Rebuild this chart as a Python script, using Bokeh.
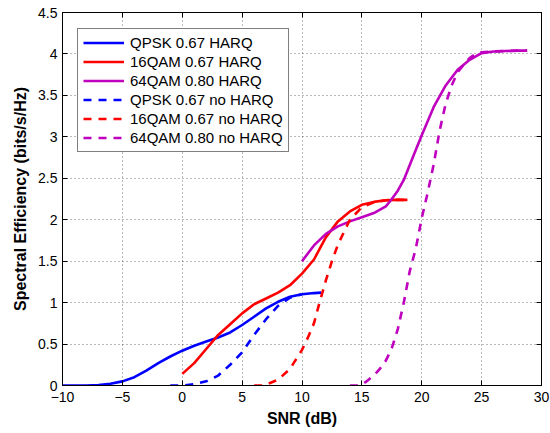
from bokeh.plotting import figure
from bokeh.models import LinearAxis, Legend, LegendItem, FixedTicker, Range1d
from bokeh.embed import file_html
from bokeh.resources import INLINE

# ---- data ----
snr_qpsk_harq = [-10, -8, -7, -6, -5, -4, -3, -2, -1, 0, 1, 2, 3, 4, 5, 6, 7, 8, 9, 10, 11, 11.6]
se_qpsk_harq = [0, 0, 0.005, 0.02, 0.05, 0.1, 0.18, 0.27, 0.35, 0.42, 0.48, 0.53, 0.58, 0.64, 0.73, 0.83, 0.93, 1.01, 1.07, 1.1, 1.115, 1.12]

snr_16qam_harq = [0, 1, 2, 3, 4, 5, 6, 7, 8, 9, 10, 11, 12, 13, 14, 15, 16, 17, 18, 18.8]
se_16qam_harq = [0.14, 0.27, 0.44, 0.61, 0.74, 0.87, 0.98, 1.05, 1.12, 1.21, 1.35, 1.52, 1.79, 1.98, 2.1, 2.18, 2.215, 2.235, 2.24, 2.24]

snr_64qam_harq = [10, 11, 12, 13, 14, 15, 16, 17, 17.5, 18, 18.5, 19, 19.5, 20, 21, 22, 23, 24, 25, 26, 27, 28, 28.8]
se_64qam_harq = [1.5, 1.69, 1.83, 1.92, 1.98, 2.03, 2.08, 2.16, 2.25, 2.35, 2.48, 2.66, 2.84, 3.02, 3.36, 3.62, 3.81, 3.93, 4.01, 4.03, 4.035, 4.04, 4.04]

snr_qpsk_noharq = [-1, 0, 1, 2, 3, 4, 5, 6, 7, 8, 9, 10]
se_qpsk_noharq = [0, 0, 0.015, 0.05, 0.12, 0.25, 0.4, 0.61, 0.8, 0.96, 1.06, 1.1]

snr_16qam_noharq = [6, 6.7, 7, 8, 9, 10, 10.5, 11, 11.5, 12, 12.5, 13, 13.5, 14, 15, 16, 17, 18, 18.8]
se_16qam_noharq = [0, 0, 0.01, 0.07, 0.2, 0.43, 0.58, 0.75, 1.02, 1.27, 1.5, 1.7, 1.85, 2.0, 2.15, 2.21, 2.235, 2.24, 2.24]

snr_64qam_noharq = [14, 14.8, 15.3, 16, 16.5, 17, 17.5, 18, 18.5, 19, 19.5, 20, 20.5, 21, 21.5, 22, 22.5, 23, 23.5, 24, 24.5, 25, 26, 27, 28, 28.8]
se_64qam_noharq = [0, 0, 0.04, 0.12, 0.2, 0.3, 0.45, 0.68, 1.0, 1.38, 1.65, 2.02, 2.33, 2.67, 3.08, 3.4, 3.62, 3.78, 3.87, 3.95, 4.0, 4.02, 4.03, 4.035, 4.04, 4.04]

labels = ["QPSK 0.67 HARQ", "16QAM 0.67 HARQ", "64QAM 0.80 HARQ",
          "QPSK 0.67 no HARQ", "16QAM 0.67 no HARQ", "64QAM 0.80 no HARQ"]

x_ticks = [-10, -5, 0, 5, 10, 15, 20, 25, 30]
x_tick_labels = ["\u221210", "\u22125", "0", "5", "10", "15", "20", "25", "30"]
y_ticks = [0, 0.5, 1, 1.5, 2, 2.5, 3, 3.5, 4, 4.5]
y_tick_labels = ["0", "0.5", "1", "1.5", "2", "2.5", "3", "3.5", "4", "4.5"]

BLUE = "#0000FF"
RED = "#FF0000"
MAG = "#BF00BF"
FONT = "Liberation Sans"

p = figure(width=550, height=433, x_range=Range1d(-10, 30), y_range=Range1d(0, 4.5),
           output_backend="svg", toolbar_location=None,
           min_border_left=62, min_border_right=9, min_border_top=12, min_border_bottom=48)
p.background_fill_color = "white"
p.border_fill_color = "white"
p.outline_line_color = "black"
p.outline_line_width = 1

xt = FixedTicker(ticks=x_ticks)
yt = FixedTicker(ticks=y_ticks)

def style_axis(ax, ticker, overrides, show_labels=True):
    ax.ticker = ticker
    ax.major_tick_in = 5
    ax.major_tick_out = 0
    ax.minor_tick_line_color = None
    ax.axis_line_color = "black"
    ax.major_tick_line_color = "black"
    if show_labels:
        ax.major_label_overrides = overrides
        ax.major_label_text_font = FONT
        ax.major_label_text_font_size = "14px"
        ax.major_label_text_color = "black"
    else:
        ax.major_label_text_font_size = "1px"
        ax.major_label_text_alpha = 0
        ax.major_label_standoff = 0

xd = dict(zip(x_ticks, x_tick_labels))
yd = dict(zip(y_ticks, y_tick_labels))

style_axis(p.xaxis[0], xt, xd)
style_axis(p.yaxis[0], yt, yd)
p.xaxis[0].major_label_standoff = 6
p.yaxis[0].major_label_standoff = 5

p.xaxis[0].axis_label = "SNR (dB)"
p.yaxis[0].axis_label = "Spectral Efficiency (bits/s/Hz)"
for ax in (p.xaxis[0], p.yaxis[0]):
    ax.axis_label_text_font = FONT
    ax.axis_label_text_font_size = "16px"
    ax.axis_label_text_font_style = "bold"
    ax.axis_label_text_color = "black"
p.xaxis[0].axis_label_standoff = 5
p.yaxis[0].axis_label_standoff = 6

top_ax = LinearAxis()
right_ax = LinearAxis()
style_axis(top_ax, xt, xd, show_labels=False)
style_axis(right_ax, yt, yd, show_labels=False)
p.add_layout(top_ax, "above")
p.add_layout(right_ax, "right")

for g in (p.xgrid[0], p.ygrid[0]):
    g.grid_line_color = "black"
    g.grid_line_alpha = 0.55
    g.grid_line_dash = "1 3"
    g.grid_line_width = 1
p.xgrid[0].ticker = xt
p.ygrid[0].ticker = yt

LW = 2.6
DASH = "8 7"
r1 = p.line(snr_qpsk_harq, se_qpsk_harq, line_color=BLUE, line_width=LW)
r2 = p.line(snr_16qam_harq, se_16qam_harq, line_color=RED, line_width=LW)
r3 = p.line(snr_64qam_harq, se_64qam_harq, line_color=MAG, line_width=LW)
r4 = p.line(snr_qpsk_noharq, se_qpsk_noharq, line_color=BLUE, line_width=LW, line_dash=DASH)
r5 = p.line(snr_16qam_noharq, se_16qam_noharq, line_color=RED, line_width=LW, line_dash=DASH)
r6 = p.line(snr_64qam_noharq, se_64qam_noharq, line_color=MAG, line_width=LW, line_dash=DASH)

items = [LegendItem(label=l, renderers=[r]) for l, r in zip(labels, [r1, r2, r3, r4, r5, r6])]
legend = Legend(items=items, location=(15, 233))
legend.label_text_font = FONT
legend.label_text_font_size = "15px"
legend.label_text_color = "black"
legend.glyph_width = 41
legend.glyph_height = 17
legend.label_height = 17
legend.spacing = 2
legend.padding = 5
legend.margin = 0
legend.label_standoff = 6
legend.border_line_color = "black"
legend.border_line_width = 1
legend.background_fill_color = "white"
legend.background_fill_alpha = 1
p.add_layout(legend)

open("out.html", "w").write(file_html(p, INLINE))
